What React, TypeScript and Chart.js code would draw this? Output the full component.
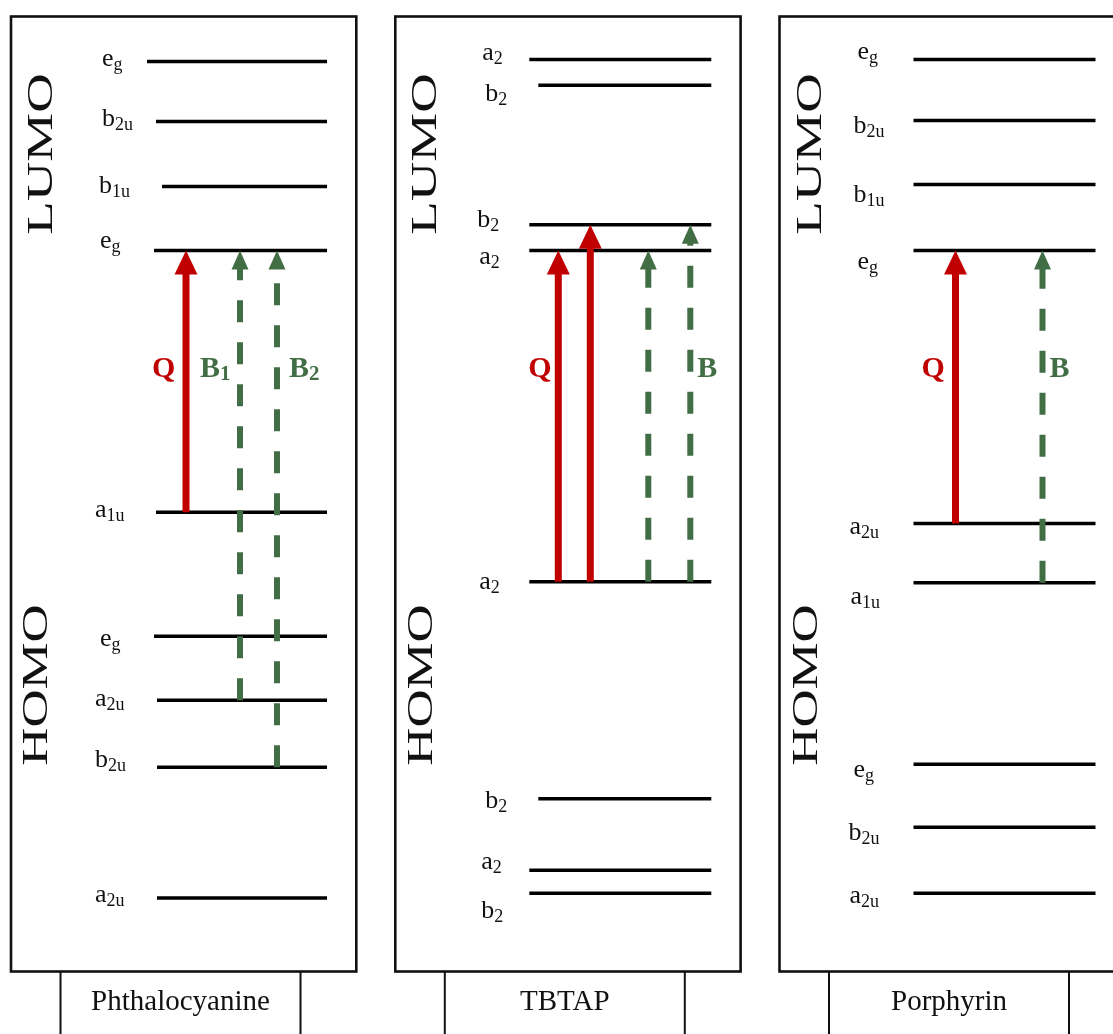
import React, { useEffect, useRef } from "react";
import { Chart, registerables } from "chart.js";

Chart.register(...registerables);

// ---------------- data ----------------
const MOLECULES = ["Phthalocyanine", "TBTAP", "Porphyrin"];

// relative orbital energies (arb. units; bottom of panel = 0, top of panel = 100)
const PC_ENERGY = [95.3, 89.0, 82.2, 75.5, 48.1, 35.1, 28.4, 21.4, 7.7];
const PC_SYMBOL = ["e", "b", "b", "e", "a", "e", "a", "b", "a"];
const PC_SUB = ["g", "2u", "1u", "g", "1u", "g", "2u", "2u", "2u"];

const TBTAP_ENERGY = [95.5, 92.8, 78.2, 75.5, 40.8, 18.1, 10.6, 8.2];
const TBTAP_SYMBOL = ["a", "b", "b", "a", "a", "b", "a", "b"];
const TBTAP_SUB = ["2", "2", "2", "2", "2", "2", "2", "2"];

const POR_ENERGY = [95.5, 89.1, 82.4, 75.5, 46.9, 40.7, 21.7, 15.1, 8.2];
const POR_SYMBOL = ["e", "b", "b", "e", "a", "a", "e", "b", "a"];
const POR_SUB = ["g", "2u", "1u", "g", "2u", "1u", "g", "2u", "2u"];

// electronic transitions (level index from -> to) and their band
const PC_FROM = [4, 6, 7];
const PC_TO = [3, 3, 3];
const PC_BAND = ["Q", "B", "B"];
const TBTAP_FROM = [4, 4, 4, 4];
const TBTAP_TO = [3, 2, 3, 2];
const TBTAP_BAND = ["Q", "Q", "B", "B"];
const POR_FROM = [4, 5];
const POR_TO = [3, 3];
const POR_BAND = ["Q", "B"];

// band labels (main, subscript)
const PC_BAND_TEXT = ["Q", "B", "B"];
const PC_BAND_SUB = ["", "1", "2"];
const TBTAP_BAND_TEXT = ["Q", "B"];
const TBTAP_BAND_SUB = ["", ""];
const POR_BAND_TEXT = ["Q", "B"];
const POR_BAND_SUB = ["", ""];

const UPPER_TITLE = "LUMO";
const LOWER_TITLE = "HOMO";

// ---------------- layout / style ----------------
const W = 1113;
const H = 1034;
const SERIF = '"Liberation Serif", "Times New Roman", serif';
const RED = "#C00000";
const GREEN = "#426E45";
const PANEL_W = 345.3;
const LEVEL_END = 316;
const Y_MAX = 971.5 / 9.55;
const Y_MIN = (971.5 - H) / 9.55;
const UPPER_TITLE_E = 85.6;
const LOWER_TITLE_E = 30.0;
const BAND_LABEL_E = 62.3;

const PANELS = [
  {
    name: MOLECULES[0], energy: PC_ENERGY, symbol: PC_SYMBOL, sub: PC_SUB,
    from: PC_FROM, to: PC_TO, band: PC_BAND, bandText: PC_BAND_TEXT, bandSub: PC_BAND_SUB,
  },
  {
    name: MOLECULES[1], energy: TBTAP_ENERGY, symbol: TBTAP_SYMBOL, sub: TBTAP_SUB,
    from: TBTAP_FROM, to: TBTAP_TO, band: TBTAP_BAND, bandText: TBTAP_BAND_TEXT, bandSub: TBTAP_BAND_SUB,
  },
  {
    name: MOLECULES[2], energy: POR_ENERGY, symbol: POR_SYMBOL, sub: POR_SUB,
    from: POR_FROM, to: POR_TO, band: POR_BAND, bandText: POR_BAND_TEXT, bandSub: POR_BAND_SUB,
  },
];

const LAYOUT = [
  {
    left: 11,
    levelStart: [136, 145, 151, 143, 145, 143, 146, 146, 146],
    labelX: [91, 91, 88, 89, 84, 89, 84, 84, 84],
    labelDy: [-1, -2, 1, -8, -1, 4, 0, -6, -2],
    arrowX: [175, 229, 266],
    bandX: [141, 189, 278],
    upperX: 29.5,
    lowerX: 24.5,
  },
  {
    left: 395.3,
    levelStart: [134, 143, 134, 134, 134, 143, 134, 134],
    labelX: [87, 90, 82, 84, 84, 90, 86, 86],
    labelDy: [-5.5, 10, -4, 7.5, 1.5, 3, -7, 19],
    arrowX: [163, 195, 253, 295],
    bandX: [133, 302],
    upperX: 29.5,
    lowerX: 25.5,
  },
  {
    left: 779.5,
    levelStart: [134, 134, 134, 134, 134, 134, 134, 134, 134],
    labelX: [78, 74, 74, 78, 70, 71, 74, 69, 70],
    labelDy: [-6.5, 6.5, 11, 12.5, 4.6, 15.5, 6.5, 7, 4],
    arrowX: [176, 263],
    bandX: [142, 270],
    upperX: 29.5,
    lowerX: 25.5,
  },
];

function buildDatasets() {
  const datasets: any[] = [];
  PANELS.forEach((p, pi) => {
    const L = LAYOUT[pi];
    p.energy.forEach((e, i) => {
      datasets.push({
        type: "line",
        data: [
          { x: L.left + L.levelStart[i], y: e },
          { x: L.left + LEVEL_END, y: e },
        ],
        borderColor: "#000",
        borderWidth: 3.5,
        borderCapStyle: "butt",
        pointRadius: 0,
        order: 1,
      });
    });
    p.from.forEach((f, k) => {
      const isQ = p.band[k] === "Q";
      const x = L.left + L.arrowX[k];
      datasets.push({
        type: "line",
        data: [
          { x, y: p.energy[f] },
          { x, y: p.energy[p.to[k]] },
        ],
        borderColor: isQ ? RED : GREEN,
        borderWidth: isQ ? 7 : 6,
        borderDash: isQ ? [] : [22, 20],
        pointRadius: 0,
        order: 0,
        arrow: true,
        headLength: isQ ? 24 : 19,
        headWidth: isQ ? 23 : 17,
      });
    });
  });
  return datasets;
}

function drawSym(ctx: CanvasRenderingContext2D, main: string, sub: string, x: number, base: number, mainFont: string, subFont: string, subDrop: number) {
  ctx.font = mainFont;
  ctx.textAlign = "left";
  ctx.textBaseline = "alphabetic";
  ctx.fillText(main, x, base);
  const w = ctx.measureText(main).width;
  if (sub) {
    ctx.font = subFont;
    ctx.fillText(sub, x + w, base + subDrop);
  }
}

const diagramPlugin = {
  id: "moDiagram",
  beforeDatasetDraw(chart: any, args: any) {
    const ds = chart.data.datasets[args.index];
    if (!ds.arrow) return;
    const pts = args.meta.data;
    const ctx = chart.ctx as CanvasRenderingContext2D;
    const x = pts[0].x;
    const y0 = pts[0].y;
    const y1 = pts[1].y;
    const hl = ds.headLength;
    const hw = ds.headWidth;
    ctx.save();
    ctx.strokeStyle = ds.borderColor;
    ctx.lineWidth = ds.borderWidth;
    ctx.lineCap = "butt";
    ctx.setLineDash(ds.borderDash || []);
    ctx.beginPath();
    ctx.moveTo(x, y0);
    ctx.lineTo(x, y1 + hl - 1);
    ctx.stroke();
    ctx.setLineDash([]);
    ctx.fillStyle = ds.borderColor;
    ctx.beginPath();
    ctx.moveTo(x, y1);
    ctx.lineTo(x - hw / 2, y1 + hl);
    ctx.lineTo(x + hw / 2, y1 + hl);
    ctx.closePath();
    ctx.fill();
    ctx.restore();
    return false;
  },
  afterDraw(chart: any) {
    const ctx = chart.ctx as CanvasRenderingContext2D;
    const xs = chart.scales.x;
    const ys = chart.scales.y;
    const yTop = ys.getPixelForValue(100);
    const yBot = ys.getPixelForValue(0);
    ctx.save();
    PANELS.forEach((p, pi) => {
      const L = LAYOUT[pi];
      const xl = xs.getPixelForValue(L.left);
      const xr = xs.getPixelForValue(L.left + PANEL_W);
      // panel frame
      ctx.strokeStyle = "#111";
      ctx.lineWidth = 2.6;
      ctx.strokeRect(xl, yTop, xr - xl, yBot - yTop);
      // name box
      ctx.lineWidth = 2;
      ctx.beginPath();
      ctx.moveTo(xl + 49.5, yBot);
      ctx.lineTo(xl + 49.5, H);
      ctx.moveTo(xl + 289.5, yBot);
      ctx.lineTo(xl + 289.5, H);
      ctx.stroke();
      ctx.fillStyle = "#111";
      ctx.font = `29px ${SERIF}`;
      ctx.textAlign = "center";
      ctx.textBaseline = "alphabetic";
      ctx.fillText(p.name, xl + 169.5, yBot + 38.5);

      // level labels
      ctx.fillStyle = "#111";
      p.energy.forEach((e, i) => {
        const base = ys.getPixelForValue(e) + L.labelDy[i] + 6;
        drawSym(ctx, p.symbol[i], p.sub[i], xl + L.labelX[i], base, `26px ${SERIF}`, `18px ${SERIF}`, 4);
      });

      // band labels
      const bandBase = ys.getPixelForValue(BAND_LABEL_E);
      p.bandText.forEach((t, k) => {
        ctx.fillStyle = t === "Q" ? RED : GREEN;
        drawSym(ctx, t, p.bandSub[k], xl + L.bandX[k], bandBase, `bold 30px ${SERIF}`, `bold 21px ${SERIF}`, 3);
      });

      // LUMO / HOMO titles (rotated, horizontally stretched)
      ctx.fillStyle = "#111";
      const titles: [string, number, number][] = [
        [UPPER_TITLE, L.upperX, UPPER_TITLE_E],
        [LOWER_TITLE, L.lowerX, LOWER_TITLE_E],
      ];
      titles.forEach(([txt, rx, e]) => {
        ctx.save();
        ctx.font = `35px ${SERIF}`;
        const m = ctx.measureText(txt);
        const ink = m.actualBoundingBoxLeft + m.actualBoundingBoxRight;
        const sx = 158 / ink;
        ctx.translate(xl + rx, ys.getPixelForValue(e));
        ctx.rotate(-Math.PI / 2);
        ctx.scale(sx, 1);
        ctx.textAlign = "center";
        ctx.textBaseline = "alphabetic";
        ctx.fillText(txt, 0, 11.5);
        ctx.restore();
      });
    });
    ctx.restore();
  },
};

export default function App() {
  const ref = useRef<HTMLCanvasElement | null>(null);
  useEffect(() => {
    if (!ref.current) return;
    const chart = new Chart(ref.current, {
      type: "line",
      data: { datasets: buildDatasets() },
      options: {
        animation: false,
        responsive: false,
        devicePixelRatio: 1,
        events: [],
        layout: { padding: 0 },
        plugins: { legend: { display: false }, tooltip: { enabled: false }, title: { display: false } },
        scales: {
          x: { type: "linear", min: 0, max: W, display: false },
          y: { type: "linear", min: Y_MIN, max: Y_MAX, display: false },
        },
        elements: { point: { radius: 0 }, line: { tension: 0 } },
      } as any,
      plugins: [diagramPlugin as any],
    });
    return () => chart.destroy();
  }, []);
  return (
    <div style={{ position: "absolute", left: 0, top: 0, width: W, height: H, background: "#fff" }}>
      <canvas ref={ref} width={W} height={H} style={{ display: "block" }} />
    </div>
  );
}
